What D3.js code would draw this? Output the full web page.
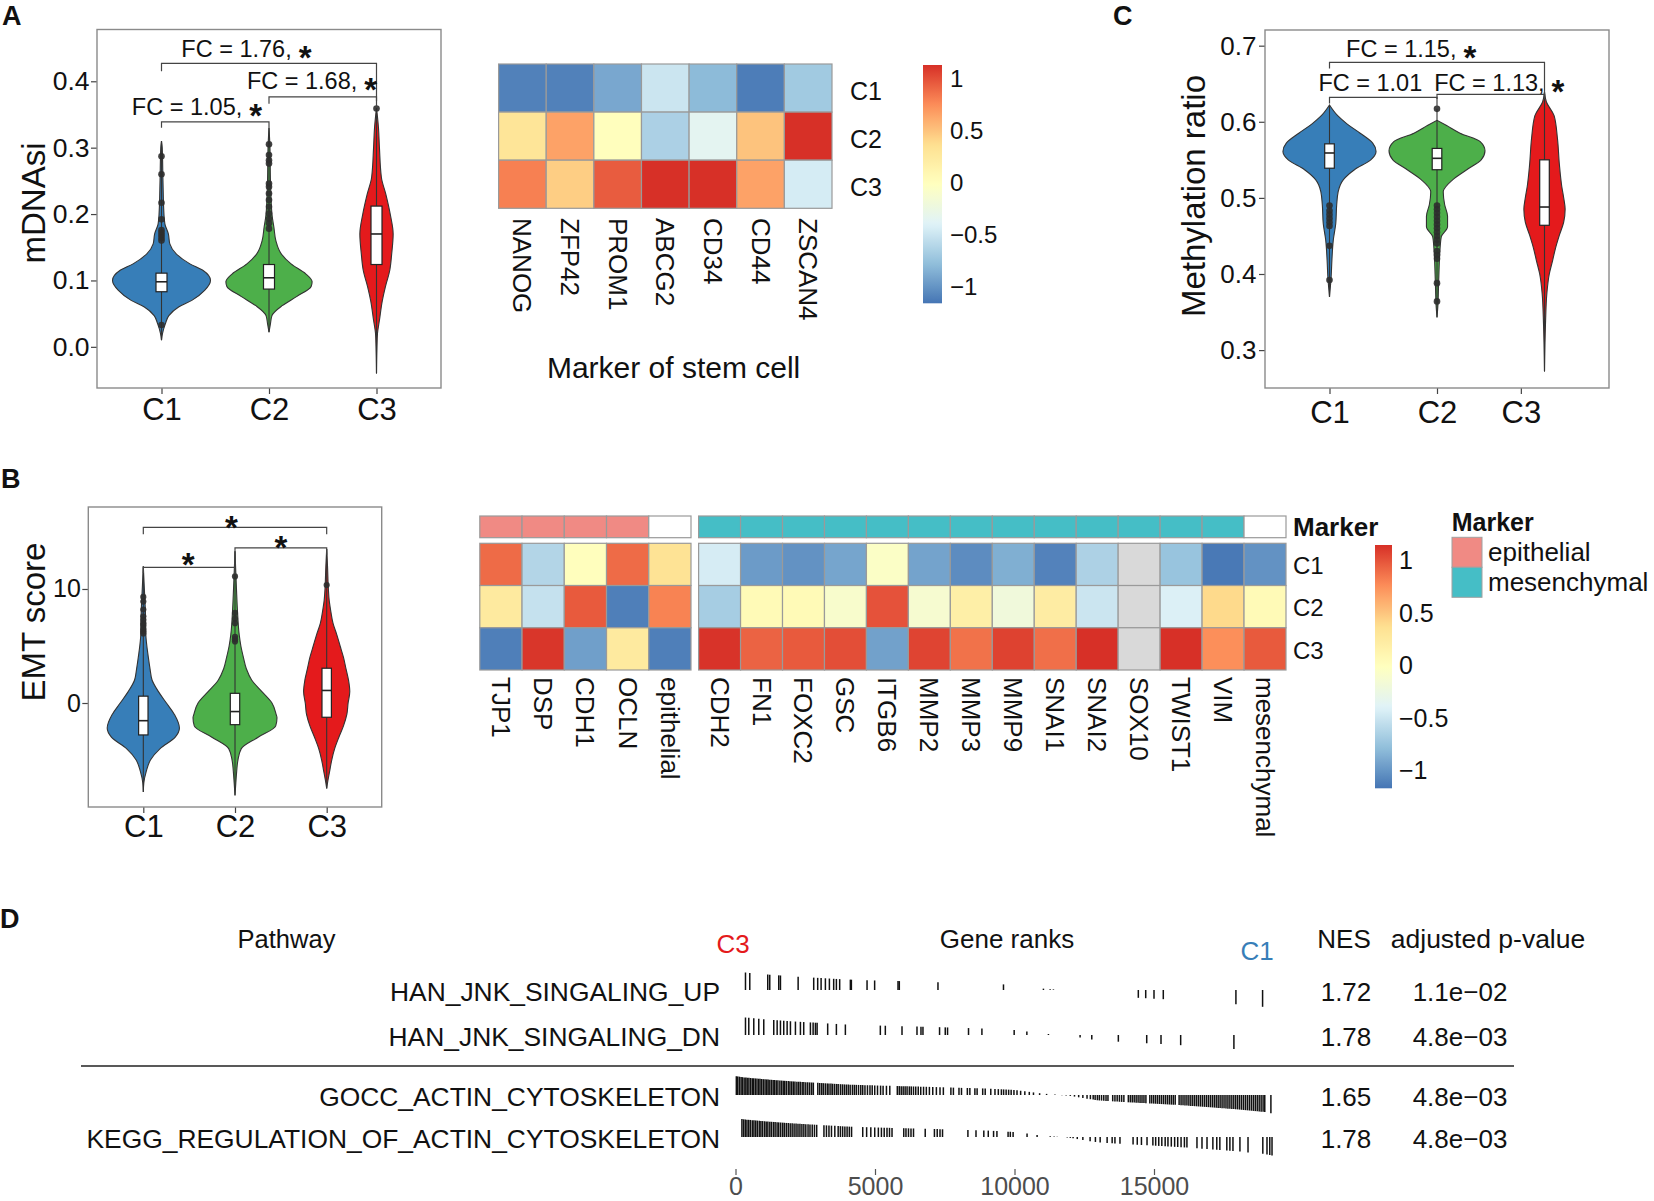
<!DOCTYPE html>
<html><head><meta charset="utf-8">
<script src="https://cdn.jsdelivr.net/npm/d3@7/dist/d3.min.js"></script>
<style>
html,body{margin:0;padding:0;background:#fff;}
svg{display:block;}
text{font-family:'Liberation Sans',Arial,Helvetica,sans-serif;fill:#111;}
</style>
</head><body>
<svg id="fig" width="1654" height="1201" xmlns="http://www.w3.org/2000/svg"></svg>
<script>
// ======================= DATA =======================
const clusters = ["C1", "C2", "C3"];
const clusterColors = ["#377EB8", "#4DAF4A", "#E41A1C"];

// ---- Panel A (left): mDNAsi violins: [value, relative density] ----
const mdnasiTicks = [0, 0.1, 0.2, 0.3, 0.4];
const mdnasiViolinC1 = [[0.01,0],[0.02,0.02],[0.035,0.08],[0.047,0.15],[0.06,0.35],[0.07,0.62],[0.085,0.88],[0.1,1.0],[0.115,0.85],[0.125,0.58],[0.14,0.3],[0.155,0.17],[0.17,0.14],[0.185,0.07],[0.2,0.05],[0.25,0.03],[0.3,0.015],[0.31,0]];
const mdnasiViolinC2 = [[0.022,0],[0.035,0.03],[0.047,0.06],[0.062,0.27],[0.076,0.57],[0.091,0.86],[0.098,0.88],[0.11,0.75],[0.125,0.45],[0.14,0.25],[0.16,0.14],[0.18,0.1],[0.2,0.06],[0.25,0.03],[0.3,0.02],[0.33,0]];
const mdnasiViolinC3 = [[-0.04,0],[0.0,0.01],[0.02,0.02],[0.04,0.06],[0.07,0.12],[0.09,0.18],[0.115,0.27],[0.14,0.31],[0.17,0.34],[0.2,0.28],[0.23,0.19],[0.255,0.1],[0.3,0.06],[0.33,0.04],[0.36,0]];
const mdnasiQuartiles = [[0.083,0.098,0.111],[0.087,0.104,0.124],[0.124,0.17,0.212]];
const mdnasiOutliers = [[0.287,0.26,0.217,0.192,0.176,0.172,0.168,0.164,0.16,0.033],[0.305,0.289,0.281,0.276,0.246,0.241,0.231,0.221,0.211,0.201,0.193,0.186,0.178],[0.359]];
const mdnasiFC = ["FC = 1.05,", "FC = 1.68,", "FC = 1.76,"];

// ---- Panel A (right): stem cell marker heatmap ----
const stemMarkers = ["NANOG","ZFP42","PROM1","ABCG2","CD34","CD44","ZSCAN4"];
const stemC1 = [-1.1,-1.1,-0.9,-0.5,-0.8,-1.12,-0.7];
const stemC2 = [0.3,0.65,0.0,-0.65,-0.35,0.5,1.13];
const stemC3 = [0.8,0.45,0.95,1.15,1.13,0.65,-0.45];
const stemScaleRange = [-1.16, 1.13];
const heatLegendTicks = [-1, -0.5, 0, 0.5, 1];

// ---- Panel B (left): EMT score violins ----
const emtTicks = [0, 10];
const emtViolinC1 = [[-7.8,0],[-7,0.012],[-6,0.07],[-5,0.17],[-4,0.4],[-3,0.76],[-2.2,0.86],[-1,0.74],[0,0.55],[1,0.36],[2,0.21],[3,0.16],[4,0.12],[6,0.06],[8,0.05],[10,0.025],[12,0]];
const emtViolinC2 = [[-8.1,0],[-7,0.02],[-6,0.04],[-5,0.07],[-4,0.15],[-3,0.55],[-2,0.97],[-1.3,1.0],[-1,0.98],[0,0.88],[1,0.64],[2,0.4],[3,0.27],[4,0.2],[5,0.14],[6,0.1],[8,0.06],[10,0.035],[13.3,0]];
const emtViolinC3 = [[-7.5,0],[-7,0.02],[-6,0.07],[-5,0.12],[-4,0.19],[-3,0.29],[-2,0.4],[-1,0.48],[0,0.51],[1,0.55],[2,0.52],[3,0.46],[4,0.4],[5,0.32],[6,0.24],[7,0.15],[8,0.1],[9,0.06],[10,0.04],[12,0.02],[13.5,0]];
const emtQuartiles = [[-2.8,-1.55,0.6],[-1.9,-0.75,0.85],[-1.25,1.1,3.05]];
const emtOutliers = [[9.3,8.9,8.2,7.6,7.3,7.0,6.8,6.5,6.3,6.1],[11.1,7.9,7.4,7.0,5.8,5.6,5.4],[10.35]];

// ---- Panel B (right): EMT marker heatmap ----
const epiMarkers = ["TJP1","DSP","CDH1","OCLN","epithelial"];
const mesMarkers = ["CDH2","FN1","FOXC2","GSC","ITGB6","MMP2","MMP3","MMP9","SNAI1","SNAI2","SOX10","TWIST1","VIM","mesenchymal"];
const epiC1 = [0.9,-0.62,0.0,0.9,0.33];
const epiC2 = [0.25,-0.53,0.97,-1.12,0.8];
const epiC3 = [-1.12,1.12,-0.95,0.25,-1.12];
const mesC1 = [-0.45,-0.97,-1.02,-0.92,-0.06,-0.93,-1.05,-0.87,-1.1,-0.65,null,-0.75,-1.15,-1.02];
const mesC2 = [-0.68,0.05,0.05,-0.1,1.0,-0.13,0.18,-0.2,0.22,-0.5,null,-0.42,0.4,0.05];
const mesC3 = [1.13,0.93,0.97,1.02,-0.94,1.06,0.87,1.07,0.88,1.15,null,1.15,0.75,0.97];
const epiAnnotation = ["epithelial","epithelial","epithelial","epithelial",null];
const mesAnnotation = ["mesenchymal","mesenchymal","mesenchymal","mesenchymal","mesenchymal","mesenchymal","mesenchymal","mesenchymal","mesenchymal","mesenchymal","mesenchymal","mesenchymal","mesenchymal",null];
const markerTypes = ["epithelial","mesenchymal"];
const markerTypeColors = ["#F08A84","#45BEC6"];
const emtScaleRange = [-1.17, 1.143];

// ---- Panel C: methylation ratio violins ----
const methylTicks = [0.3, 0.4, 0.5, 0.6, 0.7];
const methylViolinC1 = [[0.37,0],[0.397,0.035],[0.418,0.05],[0.445,0.08],[0.466,0.13],[0.491,0.15],[0.508,0.18],[0.524,0.29],[0.537,0.52],[0.55,0.86],[0.561,0.97],[0.572,0.9],[0.585,0.64],[0.597,0.37],[0.608,0.17],[0.622,0]];
const methylViolinC2 = [[0.343,0],[0.36,0.02],[0.38,0.03],[0.4,0.04],[0.43,0.06],[0.449,0.09],[0.462,0.22],[0.476,0.22],[0.491,0.16],[0.508,0.13],[0.524,0.33],[0.537,0.62],[0.55,0.92],[0.562,1.0],[0.574,0.9],[0.585,0.48],[0.595,0.2],[0.602,0]];
const methylViolinC3 = [[0.272,0],[0.333,0.02],[0.375,0.05],[0.4,0.1],[0.418,0.17],[0.434,0.23],[0.451,0.31],[0.468,0.4],[0.485,0.43],[0.5,0.4],[0.515,0.36],[0.544,0.31],[0.578,0.27],[0.608,0.2],[0.626,0.04],[0.639,0]];
const methylQuartiles = [[0.539,0.559,0.571],[0.537,0.552,0.565],[0.464,0.488,0.55]];
const methylOutliers = [[0.49,0.483,0.478,0.473,0.468,0.463,0.437,0.392],[0.617,0.49,0.485,0.48,0.475,0.47,0.465,0.46,0.455,0.45,0.445,0.44,0.43,0.425,0.42,0.388,0.364],[]];
const methylFC = ["FC = 1.01", "FC = 1.13,", "FC = 1.15,"];

// ---- Panel D: GSEA table ----
const gseaPathways = ["HAN_JNK_SINGALING_UP","HAN_JNK_SINGALING_DN","GOCC_ACTIN_CYTOSKELETON","KEGG_REGULATION_OF_ACTIN_CYTOSKELETON"];
const gseaNES = ["1.72","1.78","1.65","1.78"];
const gseaPadj = ["1.1e\u221202","4.8e\u221203","4.8e\u221203","4.8e\u221203"];
const gseaRankTicks = [0, 5000, 10000, 15000];
// ranked-list statistic (scaled to max |stat| = 1) along the gene ranks
const rankStatRanks  = [0, 300, 1000, 2000, 3000, 4000, 5000, 6000, 7000, 8000, 9000, 10000, 11000, 11500, 12000, 12500, 13000, 14000, 15000, 16000, 17000, 18000, 19000, 19300];
const rankStatValues = [1.05, 0.98, 0.88, 0.76, 0.67, 0.58, 0.53, 0.49, 0.45, 0.4, 0.36, 0.28, 0.08, 0.02, -0.05, -0.18, -0.3, -0.4, -0.48, -0.57, -0.68, -0.8, -0.95, -1.05];
const ranksJnkUp = [358,512,1156,1228,1550,1611,2245,2803,2946,3068,3222,3365,3519,3616,3734,4117,4153,4715,4987,5825,5871,7257,9605,11037,11277,11395,14438,14703,15000,15333,17936,18892];
const ranksJnkDn = [358,476,655,834,1013,1371,1493,1611,1729,1851,1969,2148,2327,2445,2685,2782,2864,2925,3304,3616,3938,5191,5370,5968,6505,6648,6719,7314,7518,7600,8352,8832,9988,10443,11216,12351,12770,13722,14739,15251,15956,17864];
const ranksGocc = [30,80,140,200,250,310,370,420,480,540,600,650,710,770,830,880,940,1000,1060,1120,1170,1230,1290,1350,1400,1460,1520,1590,1650,1710,1760,1820,1890,1950,2010,2070,2130,2200,2260,2320,2390,2450,2520,2590,2660,2730,2790,
  2950,3020,3090,3150,3220,3290,3350,3420,3480,3550,3620,3680,3760,3830,3900,3970,4040,4110,4190,4260,4330,4410,4490,4560,4640,4730,4820,4900,4990,5090,5200,5290,5410,5530,
  5800,5870,5940,6010,6080,6150,6230,6300,6380,6460,6550,6640,6740,6840,6950,7070,7200,7330,7450,
  7720,7810,8010,8100,8310,8400,8580,8660,8860,8950,9150,9300,9420,
  9530,9610,9700,9790,9880,9980,10090,10220,10370,10530,10680,
  10900,11150,11450,11700,11850,12000,12150,12300,12450,12600,12720,
  12820,12890,12970,13040,13120,13200,13280,13350,13520,13600,13680,13760,13840,13920,14080,14150,14220,14290,14360,14430,14500,14570,14640,14710,14850,14920,14990,15060,15130,15200,15270,15340,15410,15480,15550,15620,15690,15760,15900,15970,16040,16110,16180,16250,16320,16390,16460,16530,16600,16670,16740,16810,16880,16950,17020,17090,17160,17230,17300,17370,17440,17510,17580,17650,17720,17790,17860,17930,18000,18070,18140,18210,18280,18350,18420,18490,18560,18630,18700,18770,18840,18910,18970,19190];
const ranksKegg = [230,290,350,410,470,530,600,660,720,780,850,910,970,1040,1100,1160,1230,1290,1360,1420,1490,1550,1620,1690,1750,1820,1890,1960,2030,2100,2170,2240,2310,2380,2450,2520,2600,2670,2750,2830,2910,
  3170,3260,3350,3440,3560,3680,3760,3840,3920,4000,4080,4160,
  4560,4700,4850,4990,5120,5230,5330,5430,5520,5610,
  6030,6110,6200,6290,6380,6800,7130,7230,7330,7420,
  8330,8620,8900,9060,9250,9370,9770,9850,9950,10450,10810,11280,11420,11530,11890,12000,12100,12250,12450,12710,12900,13070,13320,13500,13600,13780,14250,14400,14550,14750,14960,15060,15170,15280,15400,15500,15620,15740,15850,15970,16090,16180,16540,16720,16900,17110,17250,17360,17610,17720,17830,18080,18370,18900,19050,19150,19230];

// ======================= DRAWING =======================
const svg = d3.select("#fig");
svg.append("rect").attr("width",1654).attr("height",1201).attr("fill","#fff");
const defs = svg.append("defs");

function panelLetter(t, x, y) {
  svg.append("text").attr("x", x).attr("y", y).attr("font-size", 27).attr("font-weight", "bold").text(t);
}

function violinPanel(cfg) {
  const g = svg.append("g");
  const x = d3.scaleLinear().domain([0.4, 3.6]).range([cfg.l, cfg.r]);
  const y = d3.scaleLinear().domain(cfg.yDomain).range([cfg.b, cfg.t]);
  const w = d3.scaleLinear().domain([0, 1]).range([0, cfg.maxHalf]);
  cfg.violins.forEach((prof, i) => {
    const cx = x(i + 1);
    const area = d3.area().curve(d3.curveMonotoneY)
      .y(d => y(d[0])).x0(d => cx - w(d[1])).x1(d => cx + w(d[1]));
    g.append("path").attr("d", area(prof)).attr("fill", clusterColors[i])
      .attr("stroke", "#333").attr("stroke-width", 1.1);
  });
  cfg.violins.forEach((prof, i) => {
    const ext = d3.extent(prof.map(d => d[0]).concat(cfg.outliers[i]));
    g.append("line").attr("x1", x(i + 1)).attr("x2", x(i + 1))
      .attr("y1", y(ext[0])).attr("y2", y(ext[1])).attr("stroke", "#333").attr("stroke-width", 1.1);
  });
  cfg.outliers.forEach((pts, i) => pts.forEach(v => {
    g.append("circle").attr("cx", x(i + 1)).attr("cy", y(v)).attr("r", cfg.pointR)
      .attr("fill", "#2e2e2e").attr("fill-opacity", 0.9);
  }));
  cfg.boxes.forEach((b, i) => {
    const cx = x(i + 1);
    g.append("rect").attr("x", cx - cfg.boxHalf).attr("y", y(b[2]))
      .attr("width", 2 * cfg.boxHalf).attr("height", y(b[0]) - y(b[2]))
      .attr("fill", "#fff").attr("stroke", "#222").attr("stroke-width", 1.2);
    g.append("line").attr("x1", cx - cfg.boxHalf).attr("x2", cx + cfg.boxHalf)
      .attr("y1", y(b[1])).attr("y2", y(b[1])).attr("stroke", "#222").attr("stroke-width", 1.6);
  });
  // brackets
  cfg.brackets.forEach(br => {
    g.append("path").attr("d", `M${x(br.x1)},${y(br.t1)}V${y(br.y)}H${x(br.x2)}V${y(br.t2)}`)
      .attr("fill", "none").attr("stroke", "#444").attr("stroke-width", 1.2);
  });
  cfg.labels.forEach(lb => {
    const t = g.append("text").attr("x", x(lb.x)).attr("y", y(lb.y)).attr("text-anchor", "middle")
      .attr("font-size", cfg.fcSize).text(lb.text);
    if (lb.star) t.append("tspan").attr("dx", 7).attr("dy", 12).attr("font-size", 33).attr("font-weight", "bold").text("*");
  });
  (cfg.stars || []).forEach(s => {
    g.append("text").attr("x", x(s.x)).attr("y", y(s.y) + 19).attr("text-anchor", "middle")
      .attr("font-size", 33).attr("font-weight", "bold").text("*");
  });
  // axes
  const ya = d3.axisLeft(y).tickValues(cfg.yTicks).tickFormat(cfg.fmt).tickSize(6).tickPadding(cfg.yPad);
  const gy = g.append("g").attr("transform", `translate(${cfg.l},0)`).call(ya);
  gy.select(".domain").remove();
  gy.selectAll("line").attr("stroke", "#444").attr("stroke-width", 1.2);
  gy.selectAll("text").attr("font-size", cfg.yTickSize).attr("fill", "#111");
  const xa = d3.axisBottom(x).tickValues(cfg.xTickPos).tickFormat((d, i) => clusters[i]).tickSize(6).tickPadding(cfg.xPad);
  const gx = g.append("g").attr("transform", `translate(0,${cfg.b})`).call(xa);
  gx.select(".domain").remove();
  gx.selectAll("line").attr("stroke", "#444").attr("stroke-width", 1.2);
  gx.selectAll("text").attr("font-size", 31).attr("fill", "#111");
  g.append("text").attr("transform", `translate(${cfg.titleX},${cfg.titleY}) rotate(-90)`)
    .attr("text-anchor", "middle").attr("dominant-baseline", "central")
    .attr("font-size", cfg.titleSize).text(cfg.title);
  g.append("rect").attr("x", cfg.l).attr("y", cfg.t).attr("width", cfg.r - cfg.l).attr("height", cfg.b - cfg.t)
    .attr("fill", "none").attr("stroke", "#8a8a8a").attr("stroke-width", 1.4);
}

const heatPalette = ["#4575B4","#91BFDB","#E0F3F8","#FFFFBF","#FEE090","#FC8D59","#D73027"];
function heatColor(range) {
  const stops = heatPalette.map((c, i) => range[0] + i * (range[1] - range[0]) / (heatPalette.length - 1));
  return d3.scaleLinear().domain(stops).range(heatPalette).interpolate(d3.interpolateRgb).clamp(true);
}

function heatBlock(g, cols, rowsVals, x0, x1, rowBand, color) {
  const xb = d3.scaleBand().domain(cols).range([x0, x1]);
  clusters.forEach((r, i) => cols.forEach((c, j) => {
    const v = rowsVals[i][j];
    g.append("rect").attr("x", xb(c)).attr("y", rowBand(r)).attr("width", xb.bandwidth()).attr("height", rowBand.bandwidth())
      .attr("fill", v == null ? "#D9D9D9" : color(v)).attr("stroke", "#9a9a9a").attr("stroke-width", 1.2);
  }));
  return xb;
}

function colLabels(g, xb, cols, yStart, fs) {
  cols.forEach(c => {
    g.append("text").attr("transform", `translate(${xb(c) + xb.bandwidth() / 2},${yStart}) rotate(90)`)
      .attr("dominant-baseline", "central").attr("font-size", fs).text(c);
  });
}

function colorBar(id, x, top, bottom, width, range, color, labelX, fs) {
  const grad = defs.append("linearGradient").attr("id", id).attr("x1", 0).attr("y1", 1).attr("x2", 0).attr("y2", 0);
  d3.range(0, 1.0001, 0.02).forEach(t => grad.append("stop").attr("offset", t)
    .attr("stop-color", color(range[0] + t * (range[1] - range[0]))));
  svg.append("rect").attr("x", x).attr("y", top).attr("width", width).attr("height", bottom - top).attr("fill", `url(#${id})`);
  const yb = d3.scaleLinear().domain(range).range([bottom, top]);
  const f = d3.format("");
  heatLegendTicks.forEach(t => svg.append("text").attr("x", labelX).attr("y", yb(t)).attr("dy", "0.36em")
    .attr("font-size", fs).text(f(t)));
}

// ---------- Panel A ----------
panelLetter("A", 2, 25);
violinPanel({
  l: 97, r: 441, t: 29.5, b: 388, yDomain: [-0.062, 0.478], maxHalf: 49,
  violins: [mdnasiViolinC1, mdnasiViolinC2, mdnasiViolinC3], boxes: mdnasiQuartiles, outliers: mdnasiOutliers,
  boxHalf: 5.5, pointR: 3.3, yTicks: mdnasiTicks, fmt: d3.format(".1f"), yTickSize: 26.5, yPad: 1.5, xTickPos: [1, 2, 3], xPad: 4,
  title: "mDNAsi", titleX: 33, titleY: 203, titleSize: 33, fcSize: 23.5,
  brackets: [{x1:1,x2:2,y:0.339,t1:0.33,t2:0.33},{x1:2,x2:3,y:0.3765,t1:0.366,t2:0.36},{x1:1,x2:3,y:0.427,t1:0.415,t2:0.37}],
  labels: [{x:1.33,y:0.349,text:mdnasiFC[0],star:true},{x:2.40,y:0.388,text:mdnasiFC[1],star:true},{x:1.79,y:0.436,text:mdnasiFC[2],star:true}]
});

// heatmap A
{
  const g = svg.append("g");
  const color = heatColor(stemScaleRange);
  const rows = d3.scaleBand().domain(clusters).range([64, 208.3]);
  const xb = heatBlock(g, stemMarkers, [stemC1, stemC2, stemC3], 498.6, 832, rows, color);
  clusters.forEach(c => g.append("text").attr("x", 850).attr("y", rows(c) + rows.bandwidth() / 2 + 3)
    .attr("dy", "0.36em").attr("font-size", 25).text(c));
  colLabels(g, xb, stemMarkers, 218, 26);
  g.append("text").attr("x", 673.6).attr("y", 378).attr("text-anchor", "middle").attr("font-size", 30).text("Marker of stem cell");
  colorBar("gradA", 923, 65, 303.3, 19, stemScaleRange, color, 950, 24);
}

// ---------- Panel C ----------
panelLetter("C", 1113, 25);
violinPanel({
  l: 1265, r: 1609, t: 30, b: 388, yDomain: [0.2502, 0.7206], maxHalf: 48,
  violins: [methylViolinC1, methylViolinC2, methylViolinC3], boxes: methylQuartiles, outliers: methylOutliers,
  boxHalf: 4.8, pointR: 3.3, yTicks: methylTicks, fmt: d3.format(".1f"), yTickSize: 26, yPad: 2.5, xTickPos: [1, 2, 2.78], xPad: 7,
  title: "Methylation ratio", titleX: 1193, titleY: 196, titleSize: 33, fcSize: 23.5,
  brackets: [{x1:1,x2:2,y:0.632,t1:0.624,t2:0.618},{x1:2,x2:3,y:0.636,t1:0.63,t2:0.63},{x1:1,x2:3,y:0.678,t1:0.67,t2:0.633}],
  labels: [{x:1.38,y:0.640,text:methylFC[0],star:false},{x:2.58,y:0.640,text:methylFC[1],star:true},{x:1.76,y:0.685,text:methylFC[2],star:true}]
});

// ---------- Panel B ----------
panelLetter("B", 1, 488);
violinPanel({
  l: 88.3, r: 381.7, t: 507, b: 807, yDomain: [-9.12, 17.19], maxHalf: 42,
  violins: [emtViolinC1, emtViolinC2, emtViolinC3], boxes: emtQuartiles, outliers: emtOutliers,
  boxHalf: 4.7, pointR: 3.1, yTicks: emtTicks, fmt: d3.format("d"), yTickSize: 25, yPad: 1.5, xTickPos: [1, 2, 3], xPad: 2,
  title: "EMT score", titleX: 33, titleY: 622, titleSize: 33, fcSize: 22,
  brackets: [{x1:1,x2:2,y:11.9,t1:11.4,t2:11.3},{x1:2,x2:3,y:13.6,t1:11.9,t2:13.0},{x1:1,x2:3,y:15.4,t1:14.8,t2:14.8}],
  labels: [], stars: [{x:1.49,y:12.83},{x:2.5,y:14.3},{x:1.96,y:16.05}]
});

// heatmap B
{
  const g = svg.append("g");
  const color = heatColor(emtScaleRange);
  const rows = d3.scaleBand().domain(clusters).range([543.3, 670]);
  const xb1 = heatBlock(g, epiMarkers, [epiC1, epiC2, epiC3], 479.8, 691, rows, color);
  const xb2 = heatBlock(g, mesMarkers, [mesC1, mesC2, mesC3], 698.6, 1286, rows, color);
  const annColor = d3.scaleOrdinal().domain(markerTypes).range(markerTypeColors);
  [[xb1, epiMarkers, epiAnnotation], [xb2, mesMarkers, mesAnnotation]].forEach(([xb, cols, ann]) => {
    cols.forEach((c, j) => g.append("rect").attr("x", xb(c)).attr("y", 516).attr("width", xb.bandwidth()).attr("height", 21.7)
      .attr("fill", ann[j] == null ? "#fff" : annColor(ann[j])).attr("stroke", "#9a9a9a").attr("stroke-width", 1.2));
  });
  g.append("text").attr("x", 1293).attr("y", 527).attr("dy", "0.36em").attr("font-size", 26).attr("font-weight", "bold").text("Marker");
  clusters.forEach(c => g.append("text").attr("x", 1293).attr("y", rows(c) + rows.bandwidth() / 2 + 1)
    .attr("dy", "0.36em").attr("font-size", 24).text(c));
  colLabels(g, xb1, epiMarkers, 677, 26);
  colLabels(g, xb2, mesMarkers, 677, 26);
  colorBar("gradB", 1375, 545, 788.3, 17, emtScaleRange, color, 1399, 25);
  // legend
  g.append("text").attr("x", 1451.7).attr("y", 522).attr("dy", "0.36em").attr("font-size", 25).attr("font-weight", "bold").text("Marker");
  markerTypes.forEach((m, i) => {
    g.append("rect").attr("x", 1452).attr("y", 537.3 + i * 30).attr("width", 30).attr("height", 30)
      .attr("fill", markerTypeColors[i]).attr("stroke", "#a0a0a0").attr("stroke-width", 1);
    g.append("text").attr("x", 1488).attr("y", 552 + i * 30).attr("dy", "0.36em").attr("font-size", 26).text(m);
  });
}

// ---------- Panel D ----------
panelLetter("D", 0, 928);
{
  const g = svg.append("g");
  const rx = d3.scaleLinear().domain([0, 15000]).range([735.5, 1154]);
  const stat = d3.scaleLinear().domain(rankStatRanks).range(rankStatValues);
  const tickH = d3.scaleLinear().domain([0, 1]).range([0, 18]);
  const rowCenter = [992, 1037, 1097, 1139];
  const hdrY = 948;
  g.append("text").attr("x", 286.5).attr("y", hdrY).attr("text-anchor", "middle").attr("font-size", 25.5).text("Pathway");
  g.append("text").attr("x", 1007).attr("y", hdrY).attr("text-anchor", "middle").attr("font-size", 26).text("Gene ranks");
  g.append("text").attr("x", 1344).attr("y", hdrY).attr("text-anchor", "middle").attr("font-size", 26).text("NES");
  g.append("text").attr("x", 1488).attr("y", hdrY).attr("text-anchor", "middle").attr("font-size", 26.5).text("adjusted p-value");
  g.append("text").attr("x", 733).attr("y", 953).attr("text-anchor", "middle").attr("font-size", 26).style("fill", "#E41A1C").text("C3");
  g.append("text").attr("x", 1257).attr("y", 960).attr("text-anchor", "middle").attr("font-size", 26).style("fill", "#377EB8").text("C1");
  const rankSets = [ranksJnkUp, ranksJnkDn, ranksGocc, ranksKegg];
  gseaPathways.forEach((p, i) => {
    const base = rowCenter[i] + 9.3;
    g.append("text").attr("x", 720).attr("y", base).attr("text-anchor", "end").attr("font-size", 26.4).text(p);
    g.append("text").attr("x", 1346).attr("y", base).attr("text-anchor", "middle").attr("font-size", 26).text(gseaNES[i]);
    g.append("text").attr("x", 1460).attr("y", base).attr("text-anchor", "middle").attr("font-size", 26).text(gseaPadj[i]);
    const y0 = rowCenter[i] - 2;
    rankSets[i].forEach(r => {
      g.append("line").attr("x1", rx(r)).attr("x2", rx(r)).attr("y1", y0).attr("y2", y0 - tickH(stat(r)))
        .attr("stroke", "#111").attr("stroke-width", 1.5);
    });
  });
  g.append("line").attr("x1", 81).attr("x2", 1514).attr("y1", 1066).attr("y2", 1066).attr("stroke", "#222").attr("stroke-width", 1.6);
  const ax = d3.axisBottom(rx).tickValues(gseaRankTicks).tickFormat(d3.format("d")).tickSize(6).tickPadding(2);
  const ga = g.append("g").attr("transform", "translate(0,1169)").call(ax);
  ga.select(".domain").remove();
  ga.selectAll("line").attr("stroke", "#555").attr("stroke-width", 1.2);
  ga.selectAll("text").attr("font-size", 25).style("fill", "#4d4d4d");
}
</script>
</body></html>
